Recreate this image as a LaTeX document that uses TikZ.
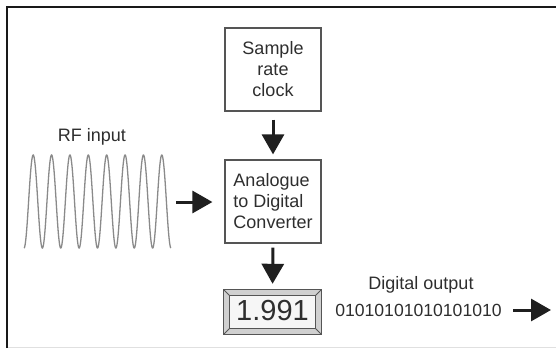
\documentclass[tikz,border=0pt]{standalone}
\usepackage{fontspec}
\setmainfont{Liberation Sans}
\usetikzlibrary{arrows.meta,calc}
\definecolor{txt}{HTML}{2E2E2E}
\definecolor{boxline}{HTML}{555555}
\definecolor{wave}{HTML}{8A8A8A}
\definecolor{bevel}{HTML}{D0D0D0}
\definecolor{screen}{HTML}{F6F6F6}
\begin{document}
\begin{tikzpicture}[x=1pt,y=-1pt,
  lbl/.style={font=\fontsize{18}{21}\selectfont, text=txt, inner sep=0pt},
  blockbox/.style={draw=boxline, line width=1.2pt, minimum width=96pt, minimum height=83pt, inner sep=0pt, font=\fontsize{18}{21}\selectfont, text=txt},
  bigarrow/.style={draw=black!88, line width=3pt, -{Triangle[length=20pt,width=22pt]}},
]
\useasboundingbox (0,0) rectangle (556,348);
% frame
\draw[line width=2.5pt, black!90] (7,348) -- (7,7) -- (556,7);
\draw[line width=1pt, black!12] (8,347) -- (556,347);

% blocks
\node[blockbox, align=center] (clock) at (273,69.5) {Sample\\rate\\clock};
\node[blockbox, align=left] (adc) at (273,201.5) {Analogue\\to Digital\\Converter};

% display
\node[minimum width=97pt, minimum height=44pt, inner sep=0pt] (disp) at (272.5,312) {};
\fill[bevel] (disp.north west) rectangle (disp.south east);
\draw[boxline, line width=1pt] (disp.north west) rectangle (disp.south east);
\coordinate (inw) at ($(disp.north west)+(6,6)$);
\coordinate (ise) at ($(disp.south east)+(-6,-6)$);
\draw[boxline, line width=1pt, fill=screen] (inw) rectangle (ise);
\draw[boxline, line width=0.8pt] (disp.north west) -- (inw);
\draw[boxline, line width=0.8pt] (disp.south east) -- (ise);
\draw[boxline, line width=0.8pt] (disp.north east) -- (inw -| ise);
\draw[boxline, line width=0.8pt] (disp.south west) -- (ise -| inw);
\node[font=\fontsize{29}{30}\selectfont, text=txt, inner sep=0pt] (val) at (272.5,311) {1.991};

% arrows between blocks
\draw[bigarrow, shorten <=8pt, shorten >=5pt] (clock.south) -- (adc.north);
\draw[bigarrow, shorten <=4pt, shorten >=6pt] (adc.south) -- (disp.north);

% RF input
\node[lbl] (rflbl) at (92,137) {RF input};
\draw[wave, line width=1.3pt] plot[domain=0:8, samples=480, smooth] ({24+18.375*\x},{201.5+46.5*cos(360*\x)});
\coordinate (rfa) at (176,202);
\draw[bigarrow, shorten >=12pt] (rfa) -- (rfa -| adc.west);

% digital output
\node[lbl] (dolbl) at (421,285) {Digital output};
\node[font=\fontsize{17.6}{21}\selectfont, text=txt, inner sep=0pt] (bits) at (418.5,310) {01010101010101010};
\coordinate (outa) at (513,310);
\coordinate (outb) at (551,310);
\draw[bigarrow] (outa) -- (outb);
\end{tikzpicture}
\end{document}
